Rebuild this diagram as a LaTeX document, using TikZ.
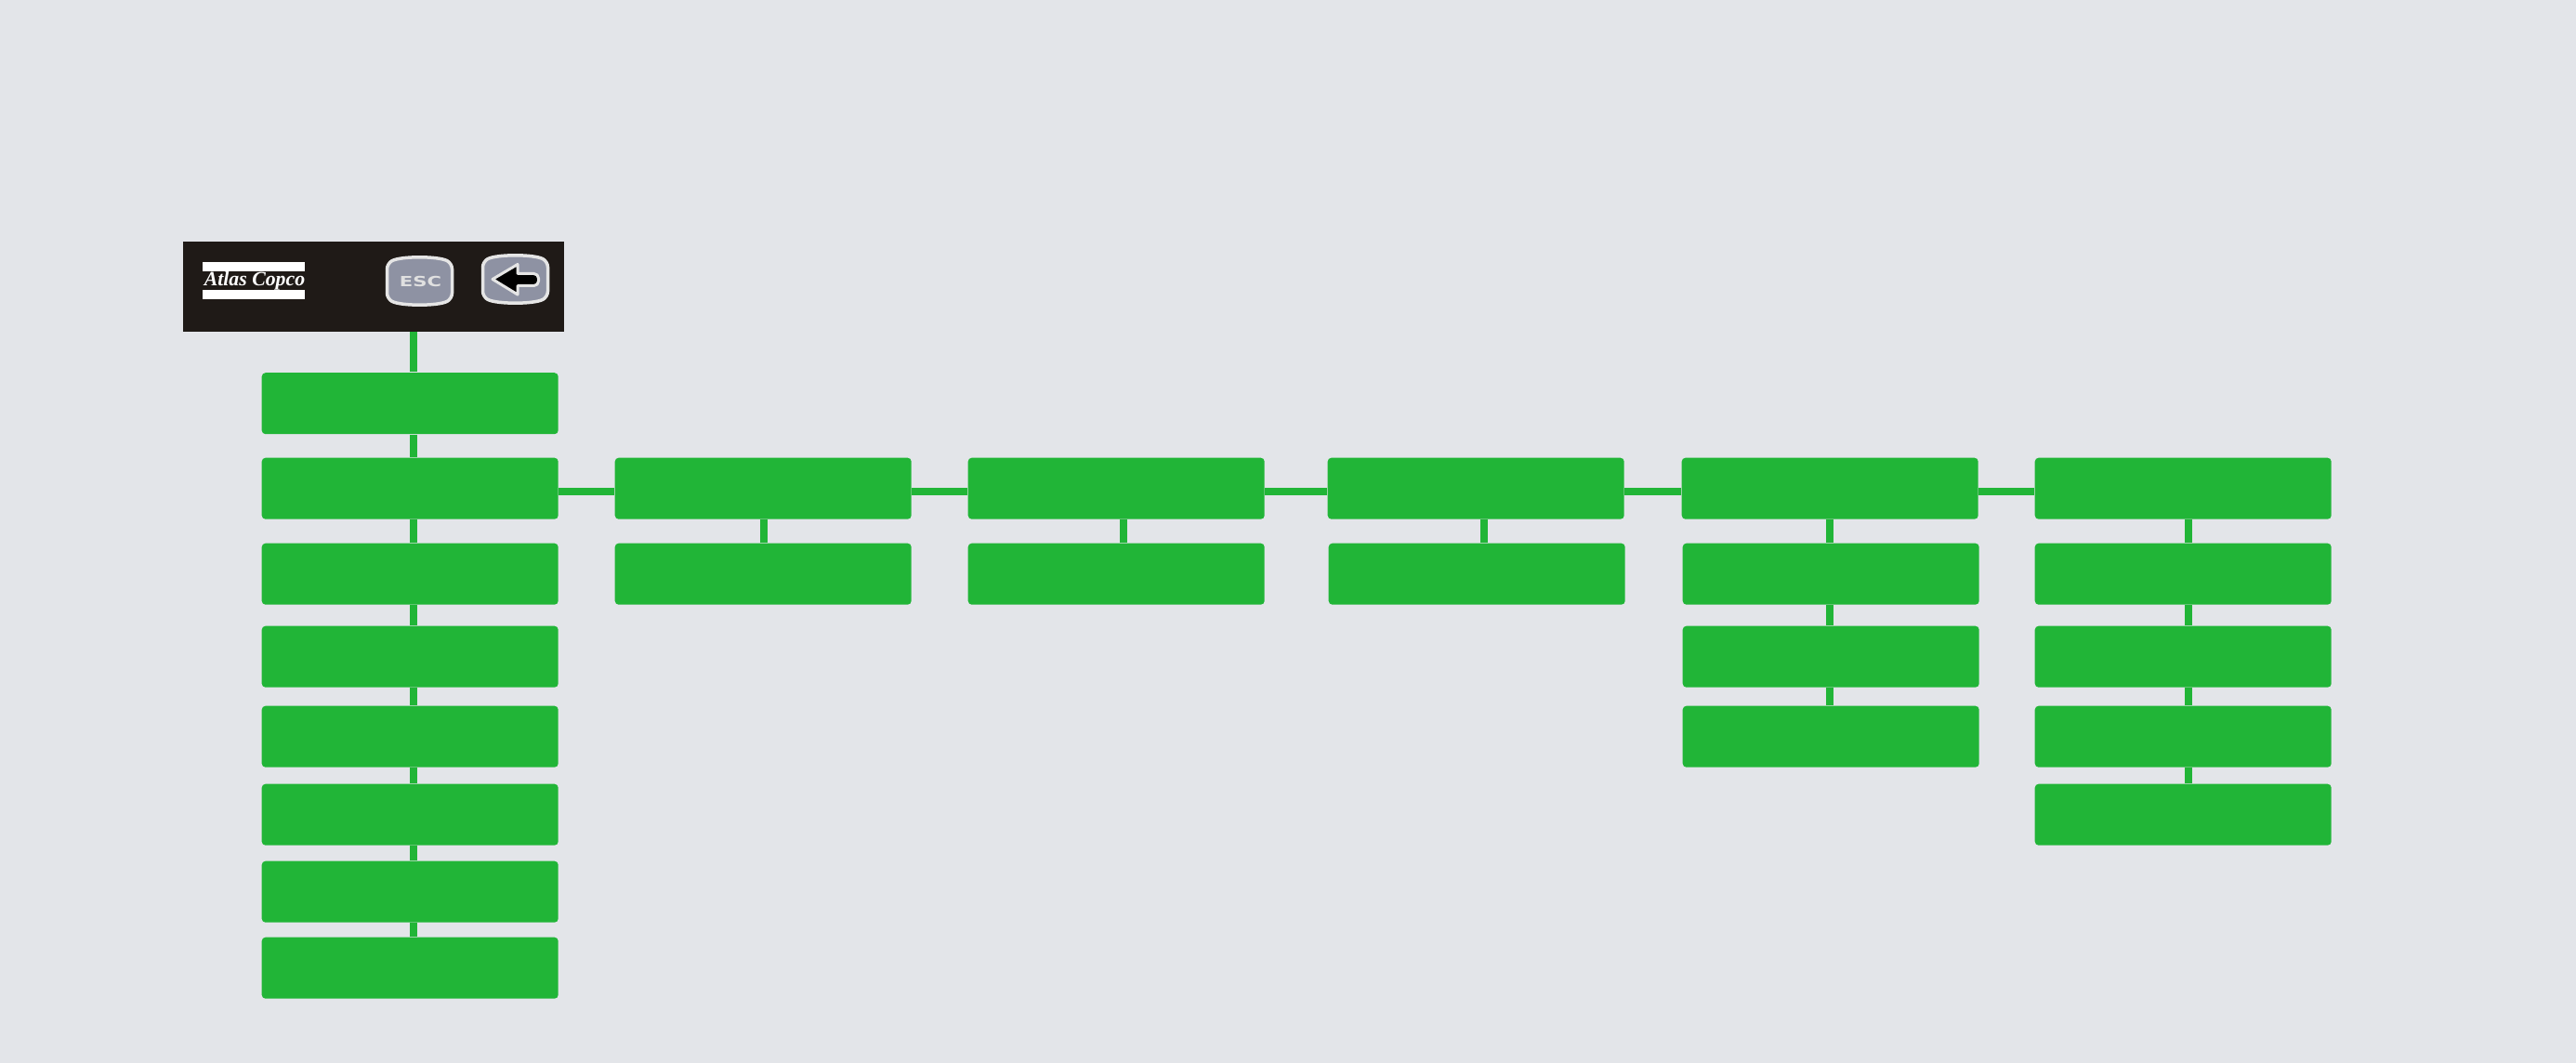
\documentclass[tikz,border=0pt]{standalone}
\usepackage{fontspec}
\usepackage{tikz}
\usetikzlibrary{calc,math}
\setmainfont{Liberation Serif}
\setsansfont{DejaVu Sans}
\definecolor{pagegray}{RGB}{227,229,233}
\definecolor{menugreen}{RGB}{33,181,55}
\definecolor{panelblack}{RGB}{31,26,23}
\definecolor{keygray}{RGB}{142,146,163}

\begin{document}
\begin{tikzpicture}[
		y=-1cm,
		menuitem/.style={fill=menugreen,rounded corners=0.4mm,inner sep=0pt,
			minimum width=3.19cm,minimum height=0.66cm,anchor=north west},
		link/.style={draw=menugreen,line width=0.8mm},
		panel/.style={fill=panelblack,inner sep=0pt,minimum width=4.095cm,minimum height=0.965cm,anchor=north west},
		logobar/.style={fill=white,inner sep=0pt,minimum width=1.1cm,minimum height=0.1cm},
		keycap/.style={fill=keygray,draw=white!90!black,line width=0.35mm,rounded corners=0.6mm},
		keyarrow/.style={fill=black,draw=white!90!black,line width=0.3mm,line join=round},
		pics/keycap/.style={code={
			\path[keycap] (-0.35,-0.19) .. controls (-0.2,-0.27) and (0.2,-0.27) .. (0.35,-0.19)
				-- (0.35,0.19) .. controls (0.2,0.27) and (-0.2,0.27) .. (-0.35,0.19) -- cycle;
		}},
		pics/backarrow/.style={code={
			\path[keyarrow] (-0.245,0) -- (0.025,-0.16) -- (0.025,-0.06) [rounded corners=0.5mm] -- (0.25,-0.06)
				-- (0.25,0.07) [sharp corners] -- (0.025,0.07) -- (0.025,0.165) -- cycle;
		}}%
	]
	\tikzmath{\ca=2.81; \cb=6.61; \cc=10.41; \cd=14.28; \ce=18.09; \cf=21.89;
		%\ra ... \rh = top of each row
		\ra=4.005; \rb=4.92; \rc=5.84; \rd=6.73; \re=7.59; \rf=8.43; \rg=9.26; \rh=10.08;
	}
	%
	\fill[pagegray] (0,0) rectangle (27.72,11.44);
	\path[use as bounding box] (0,0) rectangle (27.72,11.44);
	% header
	\node[panel] (panel) at (1.965,2.595) {};
	\node[logobar] (logo_top) at (2.73,2.87) {};
	\node[logobar] (logo_bot) at (2.73,3.175) {};
	\node[text=white,inner sep=0pt,font=\fontsize{6.2}{7}\bfseries\itshape] (logo_text) at (2.74,3.02) {Atlas Copco};
	\pic (esc) at (4.515,3.025) {keycap};
	\node[text=white!88!black,inner sep=0pt,xscale=1.4,font=\fontsize{4.3}{5}\sffamily\bfseries] (esc_text) at (4.525,3.03) {ESC};
	\pic (back) at (5.545,3.005) {keycap};
	\pic (back_arrow) at (5.545,3.005) {backarrow};
	% first column
	\node[menuitem] (item11) at (\ca,\ra) {};
	\node[menuitem] (item12) at (\ca,\rb) {};
	\node[menuitem] (item13) at (\ca,\rc) {};
	\node[menuitem] (item14) at (\ca,\rd) {};
	\node[menuitem] (item15) at (\ca,\re) {};
	\node[menuitem] (item16) at (\ca,\rf) {};
	\node[menuitem] (item17) at (\ca,\rg) {};
	\node[menuitem] (item18) at (\ca,\rh) {};
	% other columns
	\node[menuitem] (item22) at (\cb,\rb) {};
	\node[menuitem] (item23) at (\cb,\rc) {};
	\node[menuitem] (item32) at (\cc,\rb) {};
	\node[menuitem] (item33) at (\cc,\rc) {};
	\node[menuitem] (item42) at (\cd,\rb) {};
	\node[menuitem] (item43) at (\cd+0.01,\rc) {};
	\node[menuitem] (item52) at (\ce,\rb) {};
	\node[menuitem] (item53) at (\ce+0.01,\rc) {};
	\node[menuitem] (item54) at (\ce+0.01,\rd) {};
	\node[menuitem] (item55) at (\ce+0.01,\re) {};
	\node[menuitem] (item62) at (\cf,\rb) {};
	\node[menuitem] (item63) at (\cf,\rc) {};
	\node[menuitem] (item64) at (\cf,\rd) {};
	\node[menuitem] (item65) at (\cf,\re) {};
	\node[menuitem] (item66) at (\cf,\rf) {};
	%
	\coordinate (drop) at ($ (panel.south west) + (2.485,0) $);
	\draw[link] (drop) -- (drop |- item11.north);
	\foreach \src/\dst in {item12/item22,item22/item32,item32/item42,item42/item52,item52/item62}
		\draw[link] ($ (\src.east) + (0,0.03) $) -- ($ (\dst.west) + (0,0.03) $);
	\foreach \src/\dst/\off in {item11/item12/1.64,item12/item13/1.64,item13/item14/1.64,item14/item15/1.64,
		item15/item16/1.64,item16/item17/1.64,item17/item18/1.64,item22/item23/1.61,item32/item33/1.68,
		item42/item43/1.69,item52/item53/1.6,item53/item54/1.59,item54/item55/1.59,
		item62/item63/1.66,item63/item64/1.66,item64/item65/1.66,item65/item66/1.66}
	{
		\coordinate (from) at ($ (\src.south west) + (\off,0) $);
		\draw[link] (from) -- (from |- \dst.north);
	}
\end{tikzpicture}
\end{document}
